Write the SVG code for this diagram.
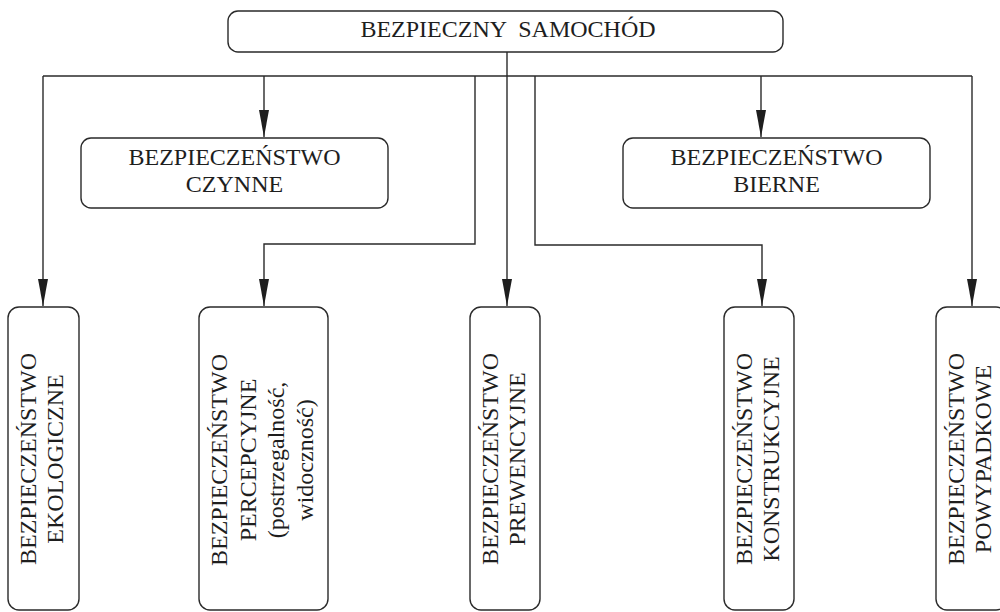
<svg xmlns="http://www.w3.org/2000/svg" width="1000" height="612" viewBox="0 0 1000 612">
<style>
.box{fill:#fff;stroke:#2a2a2a;stroke-width:1.4}
.ln{fill:none;stroke:#2a2a2a;stroke-width:1.4}
.t{font-family:"Liberation Serif","Times New Roman",serif;font-size:24px;fill:#1e1e1e;text-anchor:middle}
</style>
<defs>
<marker id="arr" markerUnits="userSpaceOnUse" markerWidth="28" markerHeight="10" refX="27" refY="5" orient="auto">
<path d="M0,0 L27,5 L0,10 z" fill="#1e1e1e"/>
</marker>
</defs>
<rect width="1000" height="612" fill="#fff"/>
<g id="connectors">
<line class="ln" x1="43" y1="76" x2="972" y2="76"/>
<line class="ln" x1="507" y1="52" x2="507" y2="306" marker-end="url(#arr)"/>
<line class="ln" x1="43" y1="76" x2="43" y2="306" marker-end="url(#arr)"/>
<line class="ln" x1="264" y1="76" x2="264" y2="137" marker-end="url(#arr)"/>
<polyline class="ln" points="475,76 475,244 264,244 264,306" marker-end="url(#arr)"/>
<polyline class="ln" points="535,76 535,245 762,245 762,306" marker-end="url(#arr)"/>
<line class="ln" x1="761" y1="76" x2="761" y2="137" marker-end="url(#arr)"/>
<line class="ln" x1="972" y1="76" x2="972" y2="306" marker-end="url(#arr)"/>
</g>
<g id="samochod">
<rect class="box" x="228" y="11" width="555" height="41" rx="10"/>
<text class="t" x="508" y="37" word-spacing="6">BEZPIECZNY SAMOCHÓD</text>
</g>
<g id="czynne">
<rect class="box" x="81" y="138" width="307" height="70" rx="10"/>
<text class="t" x="234.5" y="165">BEZPIECZEŃSTWO</text>
<text class="t" x="234.5" y="192">CZYNNE</text>
</g>
<g id="bierne">
<rect class="box" x="623" y="138" width="307" height="70" rx="10"/>
<text class="t" x="776.5" y="165">BEZPIECZEŃSTWO</text>
<text class="t" x="776.5" y="192">BIERNE</text>
</g>
<g id="ekologiczne">
<rect class="box" x="8" y="307" width="71" height="303" rx="11"/>
<g transform="translate(0,459) rotate(-90)">
<text class="t" x="0" y="36">BEZPIECZEŃSTWO</text>
<text class="t" x="0" y="63">EKOLOGICZNE</text>
</g>
</g>
<g id="percepcyjne">
<rect class="box" x="199" y="307" width="129" height="303" rx="11"/>
<g transform="translate(0,460) rotate(-90)">
<text class="t" x="0" y="227">BEZPIECZEŃSTWO</text>
<text class="t" x="0" y="255.5">PERCEPCYJNE</text>
<text class="t" x="0" y="284">(postrzegalność,</text>
<text class="t" x="0" y="312.5">widoczność)</text>
</g>
</g>
<g id="prewencyjne">
<rect class="box" x="470" y="307" width="70" height="303" rx="11"/>
<g transform="translate(0,459) rotate(-90)">
<text class="t" x="0" y="498">BEZPIECZEŃSTWO</text>
<text class="t" x="0" y="525">PREWENCYJNE</text>
</g>
</g>
<g id="konstrukcyjne">
<rect class="box" x="724" y="307" width="70" height="303" rx="11"/>
<g transform="translate(0,459) rotate(-90)">
<text class="t" x="0" y="752">BEZPIECZEŃSTWO</text>
<text class="t" x="0" y="779">KONSTRUKCYJNE</text>
</g>
</g>
<g id="powypadkowe">
<rect class="box" x="936" y="307" width="71" height="303" rx="11"/>
<g transform="translate(0,459) rotate(-90)">
<text class="t" x="0" y="964">BEZPIECZEŃSTWO</text>
<text class="t" x="0" y="991">POWYPADKOWE</text>
</g>
</g>
</svg>
